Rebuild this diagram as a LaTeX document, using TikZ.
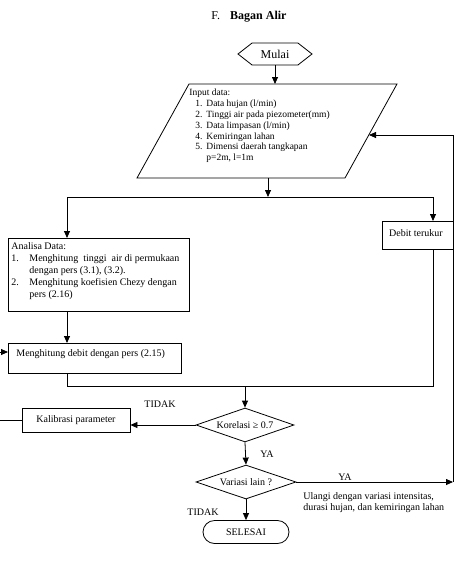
\documentclass[tikz,border=0pt]{standalone}
\usepackage{fontspec}
\setmainfont{Liberation Serif}
\usetikzlibrary{arrows.meta,shapes.geometric,shapes.misc,shapes.symbols}
\begin{document}
\begin{tikzpicture}[x=1pt,y=-1pt,
  line width=0.8pt,
  arr/.style={-{Triangle[length=7pt,width=6pt]}},
  box/.style={draw, rectangle, inner sep=0pt},
  t10/.style={inner sep=0pt, font=\fontsize{10}{12}\selectfont, align=left},
]
\useasboundingbox (0,0) rectangle (456,563);
% title
\node[font=\fontsize{12}{14}\selectfont] (title) at (249,17) {F.\hspace{10pt}\textbf{Bagan Alir}};
% start
\node[draw, signal, signal to=west and east, signal pointer angle=76, minimum width=74pt, minimum height=22pt, inner sep=0pt, font=\fontsize{12}{14}\selectfont] (mulai) at (275,54) {Mulai};
% input (parallelogram)
\coordinate (pTL) at (189,84);
\coordinate (pTR) at (397,84);
\coordinate (pBR) at (345,178);
\coordinate (pBL) at (137,178);
\draw (pTL) -- (pTR) -- (pBR) -- (pBL) -- cycle;
\coordinate (inTop) at (275,84);
\coordinate (inBot) at (268,178);
\coordinate (inR) at (369,135);
\node[inner sep=0pt, anchor=north west, align=left, font=\fontsize{9.5}{10.8}\selectfont] (inptxt) at (189,89) {Input data:\\
\hspace*{6pt}\makebox[11pt][l]{1.}Data hujan (l/min)\\
\hspace*{6pt}\makebox[11pt][l]{2.}Tinggi air pada piezometer(mm)\\
\hspace*{6pt}\makebox[11pt][l]{3.}Data limpasan (l/min)\\
\hspace*{6pt}\makebox[11pt][l]{4.}Kemiringan lahan\\
\hspace*{6pt}\makebox[11pt][l]{5.}Dimensi daerah tangkapan\\
\hspace*{17pt}p=2m, l=1m};
\draw[arr] (mulai.south) -- (inTop);
% boxes
\node[box, minimum width=181pt, minimum height=73pt, anchor=north west] (ana) at (8,238) {};
\node[t10, anchor=north west] (anatxt) at (11,242) {Analisa Data:\\
\makebox[18pt][l]{1.}Menghitung\ \ tinggi\ \ air di permukaan\\
\hspace*{18pt}dengan pers (3.1), (3.2).\\
\makebox[18pt][l]{2.}Menghitung koefisien Chezy dengan\\
\hspace*{18pt}pers (2.16)};
\node[box, minimum width=173pt, minimum height=30pt, anchor=north west] (meng) at (8,343) {};
\node[t10, anchor=west] (mengtxt) at (16,354) {Menghitung debit dengan pers (2.15)};
\node[box, minimum width=71pt, minimum height=28pt, anchor=north west] (deb) at (382,221) {};
\node[t10] (debtxt) at (416,233) {Debit terukur};
% split
\coordinate (sL) at (67,197);
\coordinate (sC) at (268,197);
\coordinate (sR) at (433,197);
\draw[arr] (inBot) -- (sC);
\draw (sL) -- (sR);
\draw[arr] (sL) -- (sL |- ana.north);
\draw[arr] (sR) -- (sR |- deb.north);
\draw[arr] (sL |- ana.south) -- (sL |- meng.north);
% merge
\coordinate (mL) at (67,386);
\coordinate (mC) at (245,386);
\coordinate (mR) at (433,386);
\draw (sL |- meng.south) -- (mL) -- (mR) -- (sR |- deb.south);
% decisions
\node[draw, diamond, minimum width=98pt, minimum height=34pt, inner sep=0pt, font=\fontsize{10}{12}\selectfont] (kor) at (245,425) {\makebox[0pt]{Korelasi ≥ 0.7}};
\draw[arr] (mC) -- (kor.north);
\node[box, minimum width=108pt, minimum height=24pt, font=\fontsize{10}{12}\selectfont] (kal) at (76,420) {Kalibrasi parameter};
\draw[arr] (kor.west) -- (kor.west -| kal.east);
\coordinate (lb) at (-3,420);
\coordinate (mIn) at (8,352);
\draw[arr] (kal.west) -- (kal.west -| lb) -- (lb |- mIn) -- (mIn);
\node[t10] (tidak1) at (160,404) {TIDAK};
\node[draw, diamond, minimum width=100pt, minimum height=34pt, inner sep=0pt, font=\fontsize{10}{12}\selectfont] (var) at (246,482) {\makebox[0pt]{Variasi lain ?}};
\draw[arr] (kor.south) -- (var.north);
\node[t10] (ya1) at (267,454) {YA};
\coordinate (fbB) at (453,482);
\draw[arr] (var.east) -- (fbB);
\draw[arr] (fbB) -- (fbB |- inR) -- (inR);
\node[t10] (ya2) at (345,477) {YA};
\node[t10, anchor=north west, font=\fontsize{10}{11}\selectfont] (ulangi) at (303,492) {Ulangi dengan variasi intensitas,\\durasi hujan, dan kemiringan lahan};
\node[t10] (tidak2) at (203,512) {TIDAK};
\node[draw, rounded rectangle, minimum width=86pt, minimum height=23pt, inner sep=0pt, font=\fontsize{10}{12}\selectfont] (sel) at (246,532) {SELESAI};
\draw[arr] (var.south) -- (sel.north);
\end{tikzpicture}
\end{document}
